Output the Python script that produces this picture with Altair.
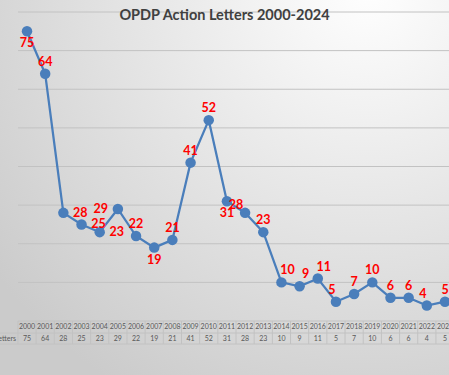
import altair as alt
import pandas as pd

# ---- data ----
years = list(range(2000, 2024))
letters = [75, 64, 28, 25, 23, 29, 22, 19, 21, 41, 52, 31, 28, 23, 10, 9, 11, 5, 7, 10, 6, 6, 4, 5]
label_pos = ["below", "above", "right", "right", "right", "left", "above", "below", "above", "above",
             "above", "below", "upleft", "above", "aboveright", "aboveright", "aboveright", "aboveleft",
             "above", "above", "above", "above", "aboveleft", "above"]
title_text = "OPDP Action Letters 2000-2024"
series_name = "Letters"
grid_values = [0, 10, 20, 30, 40, 50, 60, 70, 80]

df = pd.DataFrame({"year": years, "letters": letters, "pos": label_pos})
df["label"] = df["letters"].astype(str)
df["year_label"] = df["year"].astype(str)
bounds = pd.DataFrame({"b": [y - 0.5 for y in years] + [years[-1] + 0.5]})
grid = pd.DataFrame({"g": grid_values})
one = pd.DataFrame({"a": [0]})

W, H = 449, 309
xs = alt.Scale(domain=[1998.514, 2023.22], nice=False, zero=False)
ys = alt.Scale(domain=[0, 80], nice=False, zero=False)

BLUE = "#4a7ebb"
FONT = "Lato"

bg = alt.Chart(one).mark_rect(
    fill={"gradient": "radial",
          "stops": [{"offset": 0, "color": "#ffffff"}, {"offset": 1, "color": "#cbcbcb"}],
          "x1": 0.82, "y1": 0.05, "x2": 0.82, "y2": 0.05, "r1": 0, "r2": 1.05},
    strokeWidth=0,
).encode(x=alt.value(0), x2=alt.value(449), y=alt.value(-12), y2=alt.value(363))

gridlines = alt.Chart(grid).mark_rule(color="#c2c2c2", strokeWidth=1).encode(
    y=alt.Y("g:Q", scale=ys, axis=None), x=alt.value(18), x2=alt.value(449))

hlines = alt.Chart(pd.DataFrame({"r": [321, 332]})).mark_rule(color="#c2c2c2", strokeWidth=1).encode(
    y=alt.Y("r:Q", scale=None), x=alt.value(0), x2=alt.value(449))

vlines = alt.Chart(bounds).mark_rule(color="#c2c2c2", strokeWidth=1).encode(
    x=alt.X("b:Q", scale=xs, axis=None), y=alt.value(309), y2=alt.value(332))

X = alt.X("year:Q", scale=xs, axis=None)
Y = alt.Y("letters:Q", scale=ys, axis=None)

line = alt.Chart(df).mark_line(color=BLUE, strokeWidth=2.25).encode(x=X, y=Y)
pts = alt.Chart(df).mark_circle(color=BLUE, size=110, opacity=1).encode(x=X, y=Y)

offsets = {
    "above": (0, -12), "below": (0, 12), "right": (17, 0), "left": (-17, 0),
    "aboveleft": (-4, -12), "aboveright": (6, -12), "upleft": (-9, -8),
}
label_layers = []
for p, (dx, dy) in offsets.items():
    label_layers.append(
        alt.Chart(df).transform_filter(alt.datum.pos == p).mark_text(
            color="#ff0000", fontWeight="bold", fontSize=12.5, font=FONT, dx=dx, dy=dy,
            align="center", baseline="middle"
        ).encode(x=X, y=Y, text="label:N")
    )

head = alt.Chart(df).mark_text(fontSize=7, color="#595959", font=FONT, baseline="middle").encode(
    x=X, y=alt.value(315), text="year_label:N")
vals = alt.Chart(df).mark_text(fontSize=7, color="#595959", font=FONT, baseline="middle").encode(
    x=X, y=alt.value(327), text="label:N")
name = alt.Chart(one).mark_text(fontSize=7, color="#595959", font=FONT, baseline="middle", align="right",
                                text=series_name).encode(x=alt.value(16), y=alt.value(327))

title = alt.Chart(one).mark_text(fontSize=14.5, fontWeight="bold", color="#404040", font=FONT,
                                 baseline="middle", align="center", text=title_text).encode(
    x=alt.value(224.5), y=alt.value(3.5))

chart = alt.layer(bg, gridlines, hlines, vlines, head, vals, name, line, pts, *label_layers, title).properties(
    width=W, height=H,
    padding={"left": 0, "top": 12, "right": 0, "bottom": 54},
    autosize=alt.AutoSizeParams(type="none"),
    background="#dddddd",
).configure_view(strokeWidth=0)

chart.save("out.html", embed_options={"renderer": "svg", "actions": False})
